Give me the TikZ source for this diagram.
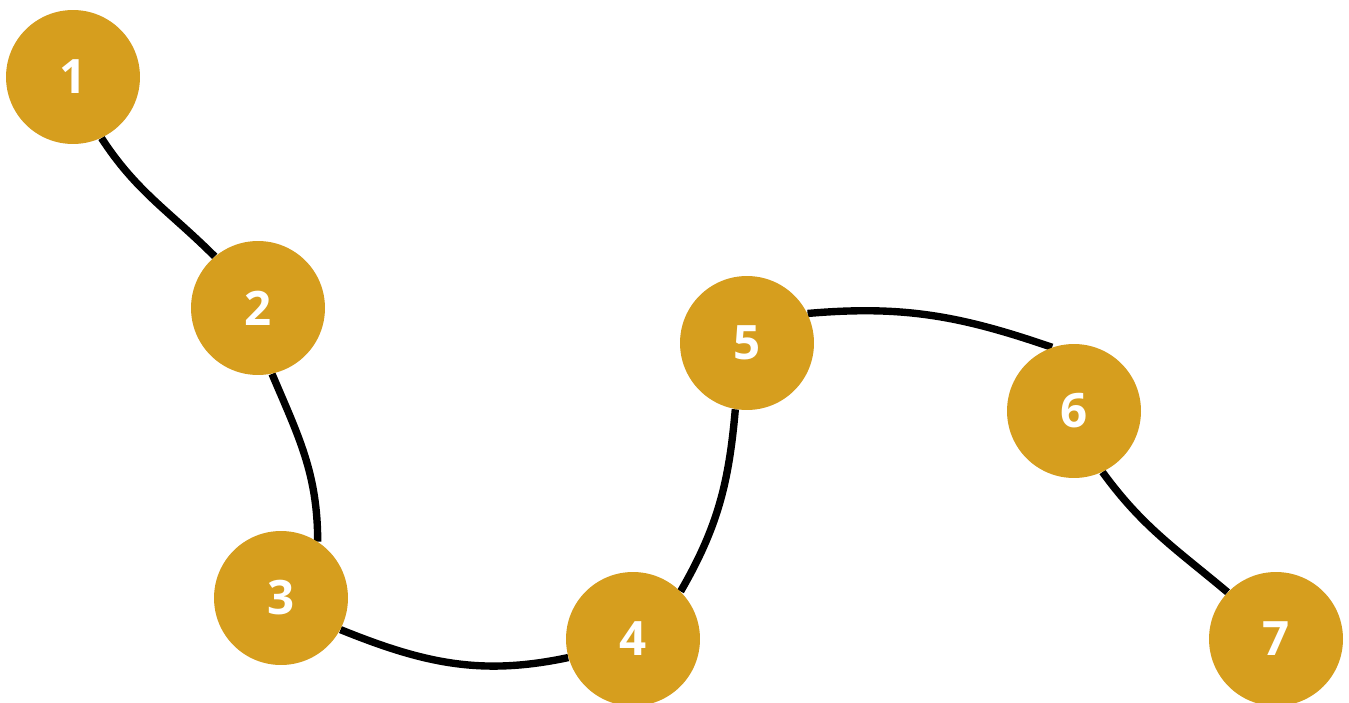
\documentclass[tikz,border=0pt]{standalone}
\usepackage{fontspec}
\setmainfont{Open Sans}
\usetikzlibrary{backgrounds}
\definecolor{Gold}{HTML}{D69E1E}

\begin{document}
\begin{tikzpicture}[x=0.02cm, y=-0.02cm,
  stop/.style={circle, fill=Gold, minimum size=2.68cm, inner sep=0pt, text=white, font=\fontsize{27}{27}\selectfont\bfseries},
  link/.style={line width=4.2pt, draw=black} ]

\useasboundingbox (0,0) rectangle (1349,703);

\node[stop] (s1) at (73,77) {1};
\node[stop] (s2) at (258,308) {2};
\node[stop] (s3) at (281,598) {3};
\node[stop] (s4) at (633,639) {4};
\node[stop] (s5) at (747,343) {5};
\node[stop] (s6) at (1074,411) {6};
\node[stop] (s7) at (1276,639) {7};

\begin{pgfonlayer}{background}
\fill[white] (0,0) rectangle (1349,703);
\draw[link] (s1.-65) to[out=-57, in=135] (s2.130);
\draw[link] (s2.-78) to[out=-67, in=90] (s3.57);
\draw[link] (s3.-28) to[out=-22, in=192] (s4.196);
\draw[link] (s4.45) to[out=60, in=-95] (s5.-100);
\draw[link] (s5.26) to[out=5, in=161] (s6.109);
\draw[link] (s6.-65) to[out=-54, in=140] (s7.136);
\end{pgfonlayer}

\end{tikzpicture}
\end{document}
